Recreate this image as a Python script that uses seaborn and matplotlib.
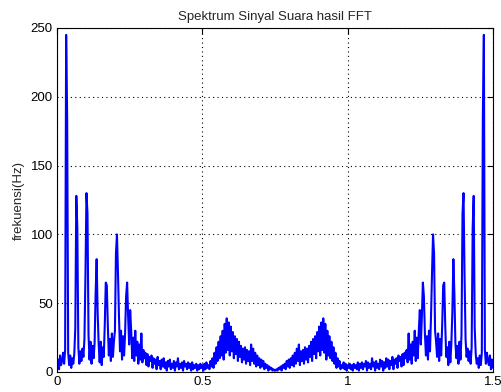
import numpy as np
import pandas as pd
import matplotlib
matplotlib.use("Agg")
import matplotlib.pyplot as plt
import seaborn as sns

# Half of the (symmetric) FFT magnitude spectrum, 0 .. 0.75
half_spectrum = [
    3, 9, 2, 12, 5, 8, 14, 6, 16, 245,
    185, 14, 5, 12, 3, 10, 6, 13, 32, 128,
    105, 18, 6, 15, 8, 17, 11, 24, 70, 130,
    115, 27, 9, 22, 6, 19, 10, 21, 57, 82,
    43, 20, 7, 22, 5, 18, 11, 34, 65, 63,
    34, 12, 24, 8, 28, 11, 22, 30, 86, 100,
    72, 40, 15, 30, 9, 26, 12, 28, 55, 65,
    40, 20, 45, 30, 10, 25, 8, 30, 12, 22,
    6, 20, 9, 28, 7, 16, 10, 14, 5, 13,
    4, 11, 8, 12, 3, 10, 6, 9, 2, 11,
    5, 8, 2, 9, 4, 10, 3, 7, 1, 8,
    4, 9, 2, 6, 3, 8, 1, 7, 4, 10,
    2, 6, 3, 7, 1, 8, 4, 6, 2, 7,
    3, 6, 1, 7, 2, 5, 3, 6, 1, 5,
    2, 6, 3, 5, 1, 6, 2, 7, 3, 5,
    2, 8, 4, 10, 3, 14, 6, 18, 8, 22,
    10, 26, 12, 30, 9, 35, 14, 39, 16, 36,
    12, 33, 15, 29, 10, 26, 13, 24, 8, 22,
    11, 19, 7, 17, 9, 18, 6, 16, 8, 15,
    5, 20, 8, 17, 6, 14, 4, 12, 5, 10,
    3, 9, 4, 8, 2, 6, 3, 5, 1, 4,
    2, 3, 1, 2, 1,
]
spectrum = half_spectrum + half_spectrum[::-1]
x_max = 1.5
x_ticks = [0, 0.5, 1, 1.5]
x_tick_labels = ["0", "0.5", "1", "1.5"]
y_ticks = [0, 50, 100, 150, 200, 250]
title = "Spektrum Sinyal Suara hasil FFT"
ylabel = "frekuensi(Hz)"

df = pd.DataFrame({"f": np.linspace(0, x_max, len(spectrum)), "mag": spectrum})

sns.set_style("white")
plt.rcParams["font.family"] = ["Liberation Sans", "DejaVu Sans"]

fig = plt.figure(figsize=(5.01, 3.92), dpi=100)
ax = fig.add_axes([57 / 501, 20 / 392, 436 / 501, 344 / 392])
sns.lineplot(data=df, x="f", y="mag", color="#0000ff", lw=1.5, ax=ax)

ax.set_xlim(0, x_max)
ax.set_ylim(0, 250)
ax.set_xticks(x_ticks)
ax.set_xticklabels(x_tick_labels)
ax.set_yticks(y_ticks)
ax.grid(True, linestyle=(0, (1, 3)), color="black", linewidth=0.8)
ax.set_axisbelow(True)
ax.tick_params(direction="in", top=True, right=True, length=4, width=0.8,
               labelsize=9.5, colors="black", pad=3)
for s in ax.spines.values():
    s.set_color("black")
    s.set_linewidth(0.8)
ax.set_title(title, fontsize=9.5, pad=6)
ax.set_ylabel(ylabel, fontsize=9.5, labelpad=4)
ax.set_xlabel("")

fig.savefig("out.png", dpi=100, facecolor="white")
